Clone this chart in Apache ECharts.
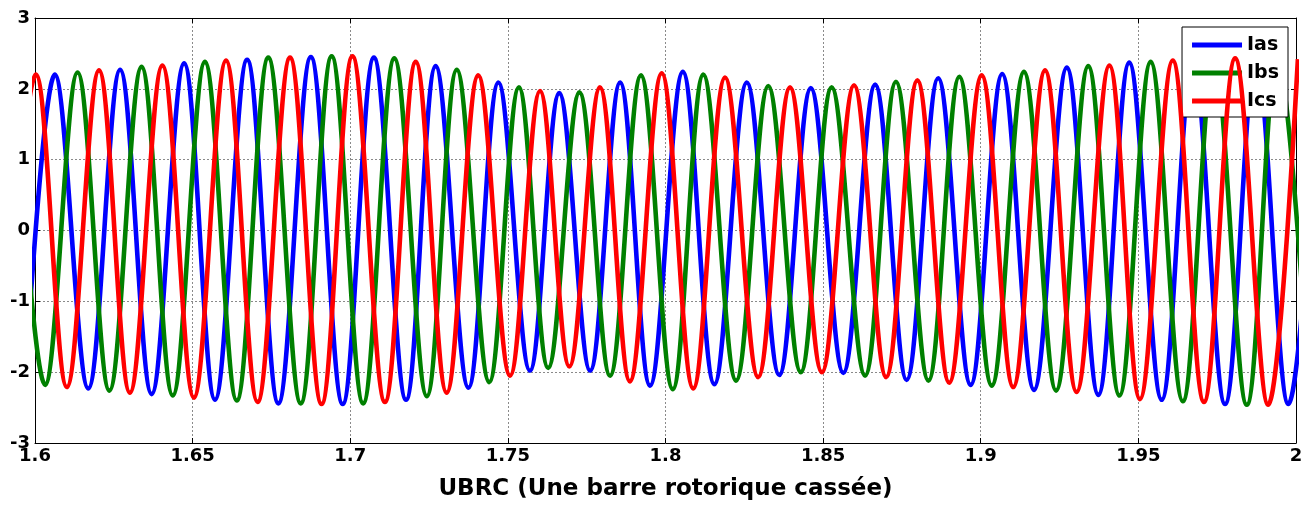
<!DOCTYPE html>
<html>
<head>
<meta charset="utf-8">
<script src="https://cdn.jsdelivr.net/npm/echarts@6/dist/echarts.min.js"></script>
<style>
html,body{margin:0;padding:0;background:#fff;}
#chart{width:1315px;height:506px;}
</style>
</head>
<body>
<div id="chart"></div>
<script>
// Peak / trough samples (time in s, current)
const iasTime = [1.5968,1.6063,1.6169,1.6270,1.6370,1.6473,1.6571,1.6673,1.6772,1.6875,1.6976,1.7075,1.7177,1.7271,1.7375,1.7470,1.7570,1.7663,1.7761,1.7856,1.7951,1.8055,1.8155,1.8258,1.8361,1.8461,1.8564,1.8665,1.8765,1.8865,1.8968,1.9068,1.9169,1.9273,1.9373,1.9471,1.9574,1.9673,1.9775,1.9873,1.9976,2.0076];
const iasValue = [-2.20,2.20,-2.23,2.27,-2.31,2.36,-2.39,2.41,-2.44,2.45,-2.45,2.44,-2.39,2.32,-2.22,2.09,-1.98,1.94,-1.98,2.09,-2.19,2.24,-2.17,2.09,-2.04,2.01,-2.01,2.06,-2.11,2.15,-2.18,2.21,-2.25,2.30,-2.32,2.37,-2.39,2.41,-2.45,2.44,-2.45,2.45];

const ibsTime = [1.5935,1.6032,1.6135,1.6236,1.6338,1.6437,1.6539,1.6640,1.6740,1.6843,1.6941,1.7041,1.7140,1.7243,1.7338,1.7441,1.7535,1.7628,1.7727,1.7824,1.7922,1.8023,1.8120,1.8224,1.8326,1.8429,1.8527,1.8633,1.8731,1.8834,1.8932,1.9035,1.9137,1.9239,1.9341,1.9440,1.9539,1.9641,1.9740,1.9844,1.9940,2.0044];
const ibsValue = [2.18,-2.18,2.23,-2.26,2.31,-2.33,2.38,-2.40,2.44,-2.44,2.46,-2.44,2.43,-2.34,2.27,-2.14,2.02,-1.94,1.95,-2.05,2.19,-2.24,2.20,-2.12,2.04,-2.00,2.02,-2.05,2.10,-2.12,2.17,-2.19,2.24,-2.26,2.32,-2.33,2.38,-2.41,2.42,-2.46,2.45,-2.46];

const icsTime = [1.5900,1.6003,1.6101,1.6203,1.6301,1.6404,1.6504,1.6606,1.6706,1.6809,1.6909,1.7007,1.7110,1.7208,1.7306,1.7406,1.7507,1.7602,1.7695,1.7792,1.7887,1.7988,1.8088,1.8189,1.8294,1.8395,1.8496,1.8598,1.8700,1.8799,1.8900,1.9003,1.9103,1.9204,1.9304,1.9408,1.9505,1.9609,1.9708,1.9807,1.9912,2.0006];
const icsValue = [-2.18,2.20,-2.21,2.26,-2.29,2.33,-2.36,2.40,-2.42,2.44,-2.45,2.46,-2.42,2.38,-2.29,2.19,-2.05,1.97,-1.92,2.02,-2.13,2.22,-2.23,2.16,-2.07,2.02,-2.00,2.05,-2.07,2.12,-2.15,2.19,-2.21,2.26,-2.28,2.33,-2.38,2.40,-2.42,2.43,-2.46,2.42];

const seriesNames = ['Ias','Ibs','Ics'];
const xTickLabels = ['1.6','1.65','1.7','1.75','1.8','1.85','1.9','1.95','2'];
const yTickLabels = ['-3','-2','-1','0','1','2','3'];
const xAxisTitle = 'UBRC (Une barre rotorique cassée)';

const FONT = '"DejaVu Sans", "Liberation Sans", Arial, sans-serif';
const pairs = (t, v) => t.map((x, i) => [x, v[i]]);
const colors = ['#0000ff', '#008000', '#ff0000'];
const dataSets = [pairs(iasTime, iasValue), pairs(ibsTime, ibsValue), pairs(icsTime, icsValue)];

const tickStyle = { show: true, inside: true, length: 5, lineStyle: { color: '#000', width: 1 } };
const lineStyleAxis = { show: true, onZero: false, lineStyle: { color: '#000', width: 1 } };
const gridLine = { show: true, lineStyle: { color: '#8a8a8a', width: 1, type: [2, 2] } };

const chart = echarts.init(document.getElementById('chart'), null, { renderer: 'canvas' });
chart.setOption({
  animation: false,
  backgroundColor: '#fff',
  grid: { left: 35, right: 19, top: 18, bottom: 62, containLabel: false },
  legend: {
    data: seriesNames,
    orient: 'vertical',
    right: 27,
    top: 27,
    icon: 'rect',
    itemWidth: 50,
    itemHeight: 5,
    itemGap: 8,
    padding: [8, 9, 6, 10],
    borderColor: '#000',
    borderWidth: 1,
    backgroundColor: '#fff',
    borderRadius: 0,
    textStyle: { fontFamily: FONT, fontWeight: 'bold', fontSize: 19, color: '#000', lineHeight: 20 }
  },
  xAxis: [
    {
      type: 'value', min: 1.6, max: 2.0, interval: 0.05, position: 'bottom',
      axisLine: lineStyleAxis, axisTick: tickStyle, splitLine: gridLine,
      axisLabel: {
        margin: 4, color: '#000', fontFamily: FONT, fontWeight: 'bold', fontSize: 18,
        formatter: v => xTickLabels[Math.round((v - 1.6) / 0.05)]
      },
      name: xAxisTitle, nameLocation: 'middle', nameGap: 35,
      nameTextStyle: { fontFamily: FONT, fontWeight: 'bold', fontSize: 23, color: '#000' }
    },
    {
      type: 'value', min: 1.6, max: 2.0, interval: 0.05, position: 'top',
      axisLine: lineStyleAxis, axisTick: tickStyle, splitLine: { show: false },
      axisLabel: { show: false }
    }
  ],
  yAxis: [
    {
      type: 'value', min: -3, max: 3, interval: 1, position: 'left',
      axisLine: lineStyleAxis, axisTick: tickStyle, splitLine: gridLine,
      axisLabel: {
        margin: 5, color: '#000', fontFamily: FONT, fontWeight: 'bold', fontSize: 18,
        formatter: v => yTickLabels[Math.round(v + 3)]
      }
    },
    {
      type: 'value', min: -3, max: 3, interval: 1, position: 'right',
      axisLine: lineStyleAxis, axisTick: tickStyle, splitLine: { show: false },
      axisLabel: { show: false }
    }
  ],
  series: seriesNames.map((name, i) => ({
    name: name,
    type: 'line',
    xAxisIndex: 0,
    yAxisIndex: 0,
    data: dataSets[i],
    symbol: 'none',
    showSymbol: false,
    smooth: 0.36,
    clip: true,
    lineStyle: { width: 4.6, color: colors[i] },
    itemStyle: { color: colors[i] },
    emphasis: { disabled: true },
    z: 2 + i
  }))
});
</script>
</body>
</html>
